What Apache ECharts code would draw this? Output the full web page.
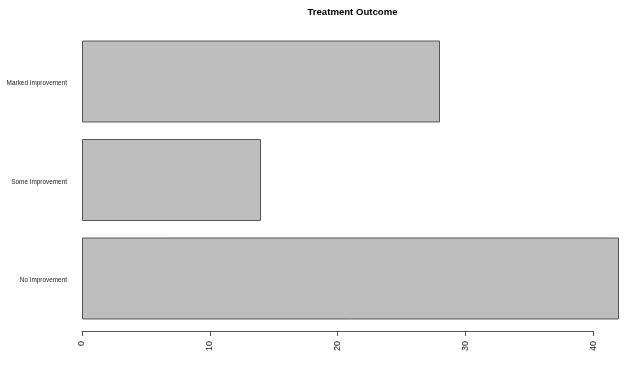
<!DOCTYPE html>
<html>
<head>
<meta charset="utf-8">
<script src="https://cdn.jsdelivr.net/npm/echarts@6/dist/echarts.min.js"></script>
<style>html,body{margin:0;padding:0;background:#fff}#c{width:638px;height:379px}</style>
</head>
<body>
<div id="c"></div>
<script>
const categories = ["No Improvement", "Some Improvement", "Marked Improvement"];
const values = [42, 14, 28];
const tickLabels = ["0", "10", "20", "30", "40"];

const font = "'Liberation Sans', Arial, Helvetica, sans-serif";
const chart = echarts.init(document.getElementById('c'), null, {renderer: 'canvas'});
chart.setOption({
  animation: false,
  backgroundColor: '#ffffff',
  title: {
    text: 'Treatment Outcome',
    left: 347.5, top: 2, textAlign: 'center',
    textStyle: {fontFamily: font, fontSize: 9.6, fontWeight: 'bold', color: '#000'}
  },
  grid: [
    {left: 82, right: 19, top: 32.25, bottom: 51.25},
    {left: 82, right: 44.6, top: 10, bottom: 48}
  ],
  xAxis: [
    {gridIndex: 0, type: 'value', min: 0, max: 42, show: false},
    {gridIndex: 1, type: 'value', min: 0, max: 40, interval: 10,
     axisLine: {show: true, lineStyle: {color: '#555', width: 1}},
     axisTick: {show: true, length: 5, lineStyle: {color: '#555'}},
     splitLine: {show: false},
     axisLabel: {rotate: 90, margin: 10, fontSize: 9, fontFamily: font, color: '#222',
       formatter: function (v) { return tickLabels[Math.round(v / 10)]; }}}
  ],
  yAxis: [
    {gridIndex: 0, type: 'category', data: categories,
     axisLine: {show: false}, axisTick: {show: false},
     axisLabel: {margin: 15, fontSize: 6.4, fontFamily: font, color: '#222',
       formatter: function (v) { return '{a|' + v + '}'; },
       rich: {a: {fontSize: 6.4, fontFamily: font, color: '#222', padding: [4, 0, 0, 0]}}}},
    {gridIndex: 1, type: 'value', show: false}
  ],
  series: [{
    type: 'bar', xAxisIndex: 0, yAxisIndex: 0,
    data: values,
    barCategoryGap: '16.8%',
    itemStyle: {color: '#bebebe', borderColor: '#555', borderWidth: 1}
  }]
});
</script>
</body>
</html>
